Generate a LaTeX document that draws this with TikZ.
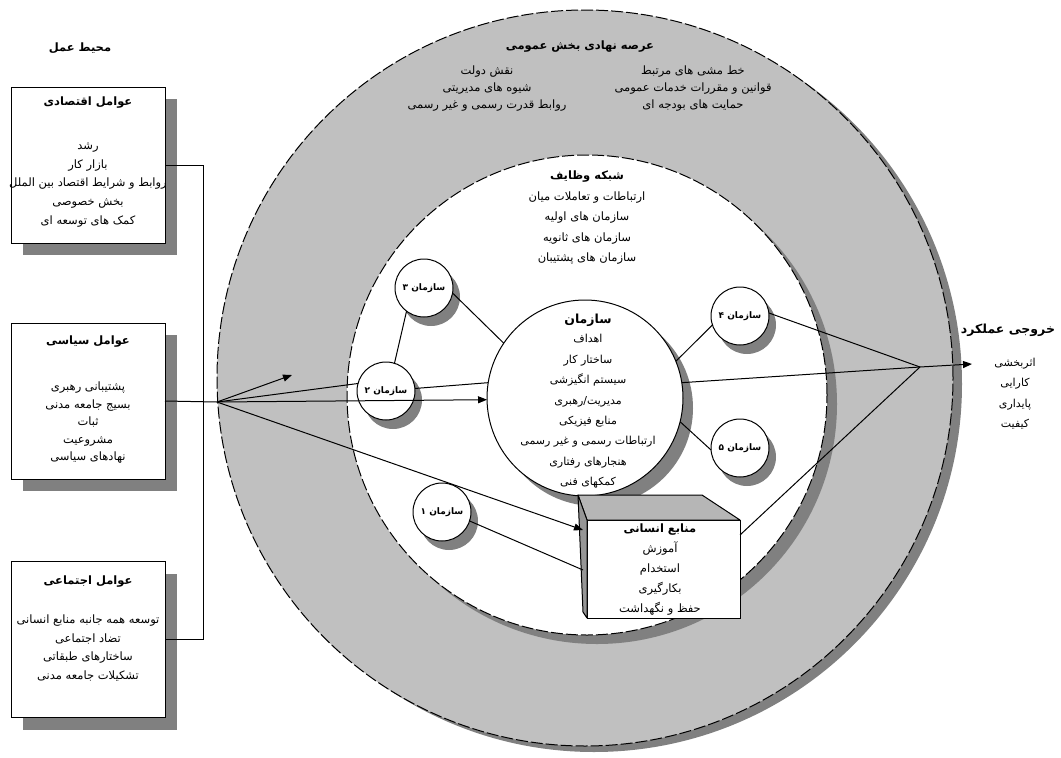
\documentclass[tikz,border=0pt]{standalone}
\usepackage{fontspec}
\usetikzlibrary{arrows.meta,shadows,calc}
\newfontfamily\arabicfont[Script=Arabic]{DejaVu Sans}
\TeXXeTstate=1
\newcommand{\fa}[1]{\beginR#1\endR}
\definecolor{ringgray}{RGB}{192,192,192}
\definecolor{shadowgray}{RGB}{128,128,128}
\definecolor{topface}{RGB}{182,182,182}
\definecolor{sideface}{RGB}{150,150,150}
\begin{document}
\begin{tikzpicture}[x=1pt,y=-1pt,
  ln/.style={line width=1pt,draw=black},
  arr/.style={-{Triangle[length=9pt,width=7pt]}},
  txt/.style={font=\arabicfont\fontsize{11.5}{#1}\selectfont,align=center,inner sep=0pt},
  txs/.style={font=\arabicfont\fontsize{11}{#1}\selectfont,align=center,inner sep=0pt},
  ttl/.style={font=\arabicfont\bfseries\fontsize{11.5}{14}\selectfont,inner sep=0pt},
  ttb/.style={font=\arabicfont\bfseries\fontsize{12.5}{15}\selectfont,inner sep=0pt},
  lbox/.style={draw,line width=1pt,fill=white,minimum width=154pt,minimum height=156pt,inner sep=0pt,outer sep=0pt,
    drop shadow={shadow xshift=12pt,shadow yshift=-12pt,fill=shadowgray,opacity=1}},
  smallc/.style={circle,draw,line width=1pt,fill=white,minimum size=58pt,inner sep=0pt,outer sep=0pt,
    font=\arabicfont\bfseries\fontsize{9}{11}\selectfont,
    drop shadow={shadow xshift=7pt,shadow yshift=-9pt,fill=shadowgray,opacity=1}},
]
\useasboundingbox (0,0) rectangle (1061,758);

% rings
\node[circle,draw,line width=1pt,dash pattern=on 12pt off 3pt,fill=ringgray,minimum size=736pt,inner sep=0pt,
  drop shadow={shadow xshift=9pt,shadow yshift=-6pt,fill=shadowgray,opacity=1}] (outer) at (585,378) {};
\node[circle,draw,line width=1pt,dash pattern=on 12pt off 3pt,fill=white,minimum size=480pt,inner sep=0pt,
  drop shadow={shadow xshift=10pt,shadow yshift=-9pt,fill=shadowgray,opacity=1}] (inner) at (587,395) {};
\node[circle,draw,line width=1pt,fill=white,minimum size=196pt,inner sep=0pt,outer sep=0pt,
  drop shadow={shadow xshift=10pt,shadow yshift=-10pt,fill=shadowgray,opacity=1}] (org) at (585,398) {};

% small organisations
\node[smallc] (s3) at (424,288) {\fa{سازمان ۳}};
\node[smallc] (s2) at (386,391) {\fa{سازمان ۲}};
\node[smallc] (s1) at (442,512) {\fa{سازمان ۱}};
\node[smallc] (s4) at (740,316) {\fa{سازمان ۴}};
\node[smallc] (s5) at (740,448) {\fa{سازمان ۵}};

% human resources box
\node[draw,line width=1pt,fill=white,minimum width=153pt,minimum height=98pt,inner sep=0pt,outer sep=0pt] (hr) at (663.5,569) {};
\filldraw[ln,fill=topface,line join=round] (hr.north west) -- ++(-9,-25) -- ([shift={(-38,-25)}]hr.north east) -- (hr.north east) -- cycle;
\filldraw[ln,fill=sideface,line join=round] (hr.north west) -- ++(-9,-25) -- ([shift={(-4,-6)}]hr.south west) -- (hr.south west) -- cycle;

% left boxes
\node[lbox] (econ) at (88,165) {};
\node[lbox] (pol) at (88,401) {};
\node[lbox] (soc) at (88,639.5) {};

% coordinates
\coordinate (fan) at (217,402);
\coordinate (upend) at (292,375);
\coordinate (conv) at (920,367);
\coordinate (tip) at (972,364);
\coordinate (hrL1) at ([shift={(-4,10)}]hr.north west);
\coordinate (hrL2) at ([shift={(-4,50)}]hr.north west);
\coordinate (hrR) at ([shift={(0,15)}]hr.north east);

% connectors
\draw[ln] (econ.east) -- ++(38,0) |- (soc.east);
\draw[ln] (pol.east) -- (fan);
\draw[ln,arr] (fan) -- (upend);
\draw[ln] (fan) -- (s2.165);
\draw[ln,arr] (fan) -- (org.181);
\draw[ln,arr] (fan) -- (hrL1);
\draw[ln] (s3.233) -- (s2.73);
\draw[ln] (s3.-10) -- (org.146);
\draw[ln] (s2.5) -- (org.171);
\draw[ln] (s1.-18) -- (hrL2);
\draw[ln] (org.22) -- (s4.198);
\draw[ln] (org.-14) -- (s5.184);
\draw[ln] (s4.6) -- (conv);
\draw[ln] (hrR) -- (conv);
\draw[ln,arr] (org.9) -- (conv) -- (tip);

% texts
\node[ttl] (envT) at (80,48) {\fa{محیط عمل}};
\node[ttl] (econT) at (88,103) {\fa{عوامل اقتصادی}};
\node[txt=18.75] (econL) at (88,185) {\fa{رشد}\\\fa{بازار کار}\\\fa{روابط و شرایط اقتصاد بین الملل}\\\fa{بخش خصوصی}\\\fa{کمک های توسعه ای}};
\node[ttl] (polT) at (88,342) {\fa{عوامل سیاسی}};
\node[txt=17.5] (polL) at (88,423) {\fa{پشتیبانی رهبری}\\\fa{بسیج جامعه مدنی}\\\fa{ثبات}\\\fa{مشروعیت}\\\fa{نهادهای سیاسی}};
\node[ttl] (socT) at (88,582) {\fa{عوامل اجتماعی}};
\node[txt=18.7] (socL) at (88,648) {\fa{توسعه همه جانبه منابع انسانی}\\\fa{تضاد اجتماعی}\\\fa{ساختارهای طبقاتی}\\\fa{تشکیلات جامعه مدنی}};

\node[ttl] (ringT) at (580,47) {\fa{عرصه نهادی بخش عمومی}};
\node[txt=16.6] (ringL) at (487,88.5) {\fa{نقش دولت}\\\fa{شیوه های مدیریتی}\\\fa{روابط قدرت رسمی و غیر رسمی}};
\node[txt=16.6] (ringR) at (693,88.5) {\fa{خط مشی های مرتبط}\\\fa{قوانین و مقررات خدمات عمومی}\\\fa{حمایت های بودجه ای}};

\node[ttl] (netT) at (587,177) {\fa{شبکه وظایف}};
\node[txt=20.2] (netL) at (587,228) {\fa{ارتباطات و تعاملات میان}\\\fa{سازمان های اولیه}\\\fa{سازمان های ثانویه}\\\fa{سازمان های پشتیبان}};

\node[ttb] (orgT) at (588,320) {\fa{سازمان}};
\node[txs=20.4] (orgL) at (588,411.5) {\fa{اهداف}\\\fa{ساختار کار}\\\fa{سیستم انگیزشی}\\\fa{مدیریت/رهبری}\\\fa{منابع فیزیکی}\\\fa{ارتباطات رسمی و غیر رسمی}\\\fa{هنجارهای رفتاری}\\\fa{کمکهای فنی}};

\node[ttl] (hrT) at (660,530) {\fa{منابع انسانی}};
\node[txt=20] (hrL) at (660,578.5) {\fa{آموزش}\\\fa{استخدام}\\\fa{بکارگیری}\\\fa{حفظ و نگهداشت}};

\node[ttb] (outT) at (1008,330) {\fa{خروجی عملکرد}};
\node[txs=20.3] (outL) at (1015,393.5) {\fa{اثربخشی}\\\fa{کارایی}\\\fa{پایداری}\\\fa{کیفیت}};
\end{tikzpicture}
\end{document}
